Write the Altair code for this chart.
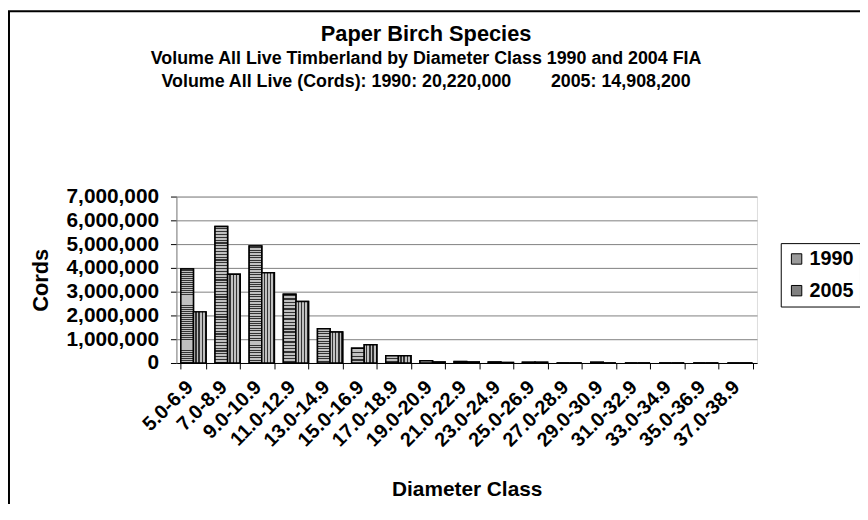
import altair as alt
import pandas as pd

classes = ["5.0-6.9", "7.0-8.9", "9.0-10.9", "11.0-12.9", "13.0-14.9", "15.0-16.9",
           "17.0-18.9", "19.0-20.9", "21.0-22.9", "23.0-24.9", "25.0-26.9", "27.0-28.9",
           "29.0-30.9", "31.0-32.9", "33.0-34.9", "35.0-36.9", "37.0-38.9"]
vol_1990 = [3950000, 5740000, 4920000, 2890000, 1440000, 620000, 300000, 95000,
            60000, 40000, 30000, 0, 30000, 0, 0, 0, 0]
vol_2005 = [2150000, 3730000, 3800000, 2590000, 1300000, 770000, 300000, 40000,
            40000, 20000, 30000, 0, 0, 0, 0, 0, 0]
series = ["1990", "2005"]

rows = []
for i, c in enumerate(classes):
    rows.append({"cls": c, "series": "1990", "v": vol_1990[i]})
    rows.append({"cls": c, "series": "2005", "v": vol_2005[i]})
df = pd.DataFrame(rows)

FONT = "Liberation Sans"
SP = "\u00a0" * 8


def stripes(n, light, dark, frac, horizontal):
    stops = []
    for k in range(n):
        a = k / n
        b = (k + frac) / n
        e = (k + 1) / n
        stops += [{"offset": a, "color": light}, {"offset": b, "color": light},
                  {"offset": b, "color": dark}, {"offset": e, "color": dark}]
    g = {"gradient": "linear", "stops": stops}
    if horizontal:
        g.update({"x1": 0, "x2": 0, "y1": 0, "y2": 1})
    else:
        g.update({"x1": 0, "x2": 1, "y1": 0, "y2": 0})
    return g


grad_h = stripes(48, "#c0c0c0", "#333333", 0.6, True)
grad_v = stripes(4, "#c0c0c0", "#333333", 0.6, False)

x_enc = alt.X("cls:N", sort=classes,
              scale=alt.Scale(paddingInner=0.263, paddingOuter=0.13),
              axis=alt.Axis(title="Diameter Class", labelAngle=-45, labelAlign="right",
                            labelBaseline="middle", labelFontSize=20, labelFont=FONT,
                            labelFontWeight="bold", labelColor="black", labelPadding=15,
                            labelOffset=-4,
                            tickBand="extent", tickSize=6, tickColor="black",
                            domainColor="black", titleFont=FONT, titleFontSize=21,
                            titleFontWeight="bold", titleColor="black", titleY=128,
                            titleBaseline="middle", labelOverlap=False))
y_enc = alt.Y("v:Q", scale=alt.Scale(domain=[0, 7000000]),
              axis=alt.Axis(title="Cords", format=",d", values=list(range(0, 7000001, 1000000)),
                            labelFontSize=21, labelFont=FONT, labelFontWeight="bold",
                            labelColor="black", labelPadding=12, tickSize=6,
                            tickColor="black", domainColor="#808080", gridColor="#808080",
                            titleFont=FONT, titleFontSize=22, titleFontWeight="bold",
                            titleColor="black", titleX=-137, titleY=84, titleAngle=-90,
                            titleAlign="center", titleBaseline="middle"))
xo_enc = alt.XOffset("series:N", scale=alt.Scale(domain=series))

legend_bars = alt.Chart(df).mark_bar(stroke="black", strokeWidth=1.5).encode(
    x=x_enc, y=y_enc, xOffset=xo_enc,
    color=alt.Color("series:N", scale=alt.Scale(domain=series, range=["#9a9a9a", "#808080"]),
                    legend=alt.Legend(title=None, orient="none", legendX=610, legendY=47,
                                      strokeColor="black", fillColor="white", padding=6,
                                      symbolType="square", symbolSize=110,
                                      symbolStrokeColor="black", symbolStrokeWidth=1,
                                      labelFont=FONT, labelFontSize=20, labelFontWeight="bold",
                                      labelColor="black", rowPadding=12, labelOffset=3))
)

pattern_bars = alt.Chart(df).mark_bar(stroke="black", strokeWidth=1.5).encode(
    x=x_enc, y=y_enc, xOffset=xo_enc,
    fill=alt.condition("datum.series == '1990'", alt.value(grad_h), alt.value(grad_v)),
)

frame = alt.Chart(alt.Data(values=[{}])).mark_rect(
    fillOpacity=0, stroke="black", strokeWidth=2
).encode(x=alt.value(-169), x2=alt.value(900), y=alt.value(-187), y2=alt.value(500))

chart = alt.layer(legend_bars, pattern_bars, frame).properties(
    width=586, height=168,
    padding={"left": 170, "top": 188, "right": 104, "bottom": 140},
    autosize=alt.AutoSizeParams(type="none"),
    title=alt.TitleParams(
        text="Paper Birch Species",
        subtitle=["Volume All Live Timberland by Diameter Class 1990 and 2004 FIA",
                  "Volume All Live (Cords): 1990: 20,220,000" + SP + "2005: 14,908,200"],
        font=FONT, fontSize=22, fontWeight="bold", color="black",
        subtitleFont=FONT, subtitleFontSize=18, subtitleFontWeight="bold",
        subtitleColor="black", subtitlePadding=4, subtitleLineHeight=23,
        anchor="middle", frame="group", dx=-41, offset=-82),
).configure_view(stroke="#808080", strokeWidth=1).configure(background="white")

chart.save("out.html", embed_options={"renderer": "svg", "actions": False})
